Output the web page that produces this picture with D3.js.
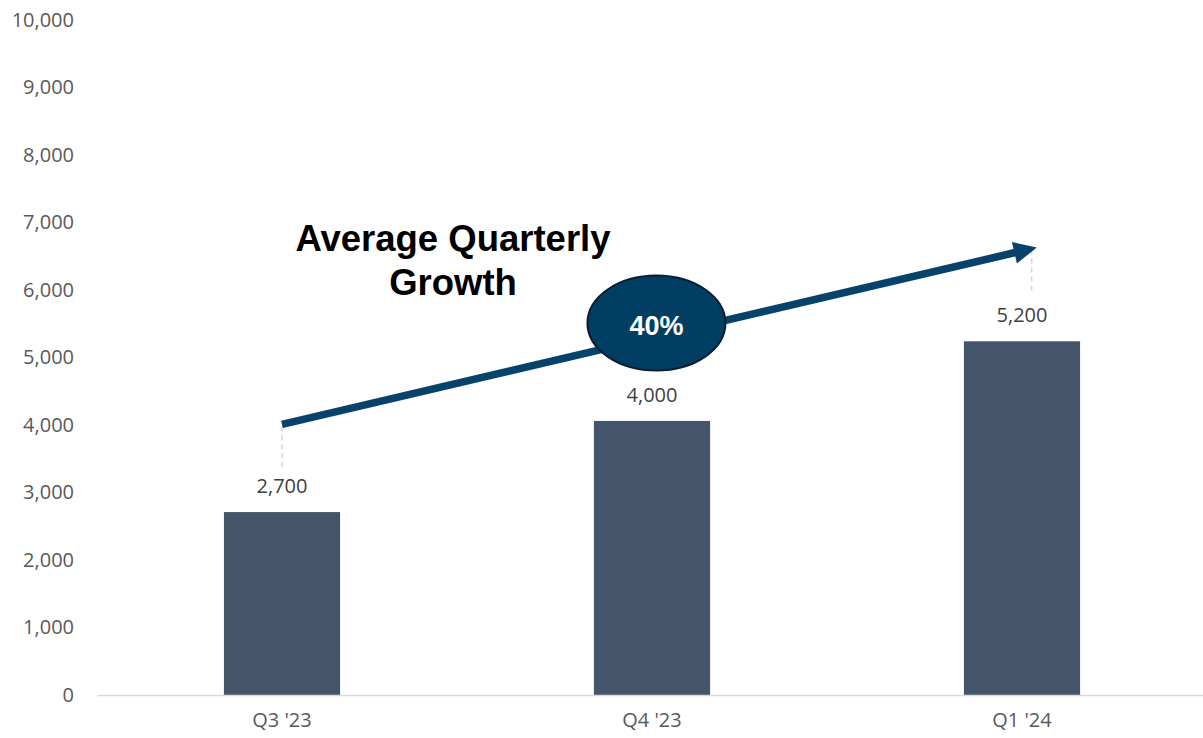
<!DOCTYPE html>
<html>
<head>
<meta charset="utf-8">
<script src="https://cdn.jsdelivr.net/npm/d3@7"></script>
<style>
  html, body { margin: 0; padding: 0; background: #fff; }
  svg { display: block; }
</style>
</head>
<body>
<svg id="chart" width="1203" height="738"></svg>
<script>
// ---- data ----
const categories = ["Q3 '23", "Q4 '23", "Q1 '24"];
const values = [2710, 4060, 5240];
const valueLabels = ["2,700", "4,000", "5,200"];
const yTicks = [0, 1000, 2000, 3000, 4000, 5000, 6000, 7000, 8000, 9000, 10000];
// growth arrow annotation (category index, value)
const arrowFrom = [0, 4010];
const arrowTo = [2.04, 6630];
const growthLabel = "40%";
const growthCenter = [1.012, 5510];
const titleLines = ["Average Quarterly", "Growth"];

// ---- layout ----
const svg = d3.select("#chart");
const margin = { left: 97, right: -4, top: 20, bottom: 43 };
const W = 1203, H = 738;

const x = d3.scaleBand()
  .domain(categories)
  .range([margin.left, W - margin.right])
  .paddingInner(0.686)
  .paddingOuter(0.343);

const y = d3.scaleLinear()
  .domain([0, 10000])
  .range([H - margin.bottom, margin.top]);

const catX = i => x(categories[0]) + x.bandwidth() / 2 + i * x.step();

const tickFont = "'Open Sans', 'Liberation Sans', sans-serif";
const tickSize = "20px";

// y axis labels
const yAxis = d3.axisLeft(y).tickValues(yTicks).tickFormat(d3.format(",")).tickSize(0).tickPadding(0);
const yg = svg.append("g").attr("transform", `translate(74,0)`).call(yAxis);
yg.select(".domain").remove();
yg.selectAll("text")
  .attr("fill", "#595959")
  .style("font-family", tickFont)
  .style("font-size", tickSize);

// bars
svg.append("g").selectAll("rect")
  .data(values)
  .join("rect")
  .attr("x", (d, i) => x(categories[i]))
  .attr("y", d => y(d))
  .attr("width", x.bandwidth())
  .attr("height", d => y(0) - y(d))
  .attr("fill", "#44546A");

// x axis
const xAxis = d3.axisBottom(x).tickSize(0).tickPadding(18);
const xg = svg.append("g").attr("transform", `translate(0,${y(0)})`).call(xAxis);
xg.select(".domain").attr("stroke", "#D9D9D9").attr("stroke-width", 1.5);
xg.selectAll("text")
  .attr("fill", "#595959")
  .style("font-family", tickFont)
  .style("font-size", tickSize);

// data labels
svg.append("g").selectAll("text")
  .data(values)
  .join("text")
  .attr("x", (d, i) => catX(i))
  .attr("y", d => y(d) - 19)
  .attr("text-anchor", "middle")
  .attr("fill", "#404040")
  .style("font-family", tickFont)
  .style("font-size", tickSize)
  .text((d, i) => valueLabels[i]);

// leader lines (dashed) from labels to arrow
const leaders = [
  { x: catX(arrowFrom[0]), y1: y(arrowFrom[1]) + 2, y2: y(values[0]) - 44 },
  { x: catX(arrowTo[0]) - 5, y1: y(arrowTo[1]) + 2, y2: y(values[2]) - 49 }
];
svg.append("g").selectAll("line")
  .data(leaders)
  .join("line")
  .attr("x1", d => d.x).attr("x2", d => d.x)
  .attr("y1", d => d.y1).attr("y2", d => d.y2)
  .attr("stroke", "#BFBFBF")
  .attr("stroke-width", 1)
  .attr("stroke-dasharray", "5,4");

// arrow
const ax1 = catX(arrowFrom[0]), ay1 = y(arrowFrom[1]);
const ax2 = catX(arrowTo[0]), ay2 = y(arrowTo[1]);
const ang = Math.atan2(ay2 - ay1, ax2 - ax1);
const headLen = 23, headHalf = 11;
const bx = ax2 - headLen * Math.cos(ang), by = ay2 - headLen * Math.sin(ang);
const arrowColor = "#07426A";
svg.append("line")
  .attr("x1", ax1).attr("y1", ay1)
  .attr("x2", bx + 2 * Math.cos(ang)).attr("y2", by + 2 * Math.sin(ang))
  .attr("stroke", arrowColor)
  .attr("stroke-width", 7.5);
svg.append("path")
  .attr("d", d3.line()([
    [ax2, ay2],
    [bx - headHalf * Math.sin(ang), by + headHalf * Math.cos(ang)],
    [bx + headHalf * Math.sin(ang), by - headHalf * Math.cos(ang)]
  ]) + "Z")
  .attr("fill", arrowColor);

// growth ellipse
const ecx = catX(growthCenter[0]), ecy = y(growthCenter[1]);
svg.append("ellipse")
  .attr("cx", ecx).attr("cy", ecy)
  .attr("rx", 69).attr("ry", 47.5)
  .attr("fill", "#003F63")
  .attr("stroke", "#0B1E2E")
  .attr("stroke-width", 2);
svg.append("text")
  .attr("x", ecx).attr("y", ecy + 12)
  .attr("text-anchor", "middle")
  .attr("fill", "#FFFFFF")
  .style("font-family", "'Liberation Sans', Arial, sans-serif")
  .style("font-weight", "bold")
  .style("font-size", "27px")
  .text(growthLabel);

// title annotation
const tcx = (catX(0) + catX(1)) / 2 - 14;
svg.append("g").selectAll("text")
  .data(titleLines)
  .join("text")
  .attr("x", tcx)
  .attr("y", (d, i) => y(6580) + i * 44)
  .attr("text-anchor", "middle")
  .attr("fill", "#000000")
  .style("font-family", "'Liberation Sans', Arial, sans-serif")
  .style("font-weight", "bold")
  .style("font-size", "36.5px")
  .text(d => d);
</script>
</body>
</html>
